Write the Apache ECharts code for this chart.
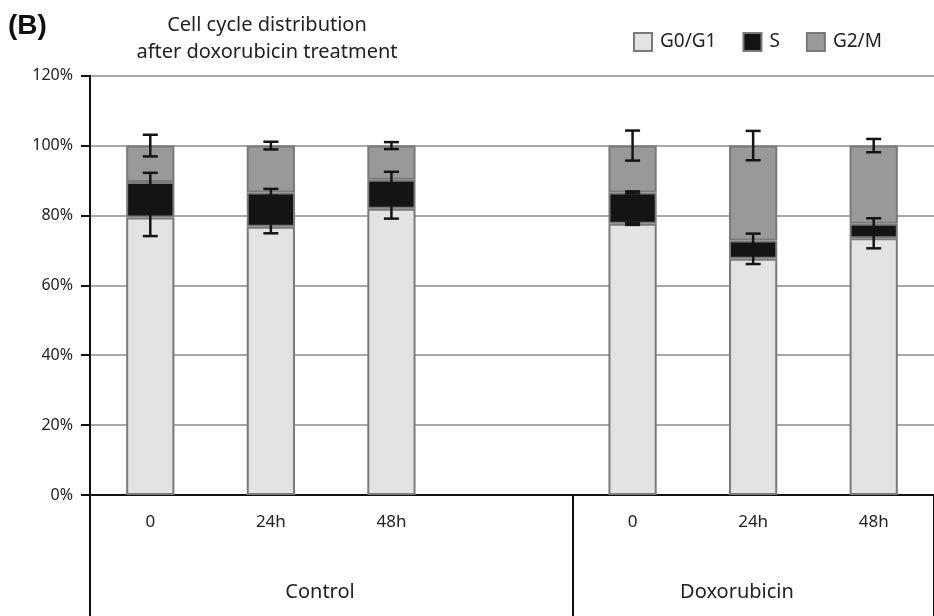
<!DOCTYPE html>
<html>
<head>
<meta charset="utf-8">
<script src="https://cdn.jsdelivr.net/npm/echarts@6/dist/echarts.min.js"></script>
<style>html,body{margin:0;padding:0;background:#fff}#c{width:934px;height:616px}</style>
</head>
<body>
<div id="c"></div>
<script>
// ---- data ----
var categories = ['0', '24h', '48h', '', '0', '24h', '48h'];
var groups = ['Control', 'Doxorubicin'];
var yTicks = [0, 20, 40, 60, 80, 100, 120];
var g0g1 = [79.4, 76.8, 81.9, null, 77.6, 67.6, 73.5];
var sPhase = [10.2, 9.8, 8.3, null, 9.0, 5.2, 4.1];
var g2m = [10.4, 13.4, 9.8, null, 13.4, 27.2, 22.4];
var g0g1Err = [5.3, 1.9, 2.8, null, 0.3, 1.5, 2.9];
var sErr = [2.6, 1.0, 2.3, null, 0.3, 2.0, 1.6];
var g2mErr = [3.1, 1.1, 1.0, null, 4.3, 4.2, 1.9];

var FONT = 'Noto Sans';
var chart = echarts.init(document.getElementById('c'));

function errData(vals, prevs, errs) {
  var out = [];
  for (var i = 0; i < vals.length; i++) {
    if (vals[i] == null) continue;
    var top = vals[i];
    prevs.forEach(function (p) { top += p[i]; });
    out.push([i, top, errs[i]]);
  }
  return out;
}
function errSeries(name, data) {
  return {
    type: 'custom', name: name, data: data, z: 5,
    encode: { x: 0, y: 1 },
    renderItem: function (params, api) {
      var x = api.value(0), top = api.value(1), e = api.value(2);
      var hi = api.coord([x, top + e]), lo = api.coord([x, top - e]);
      var w = 7.5;
      var st = { stroke: '#141414', lineWidth: 2.5 };
      return { type: 'group', children: [
        { type: 'line', shape: { x1: hi[0], y1: hi[1], x2: lo[0], y2: lo[1] }, style: st },
        { type: 'line', shape: { x1: hi[0] - w, y1: hi[1], x2: hi[0] + w, y2: hi[1] }, style: st },
        { type: 'line', shape: { x1: lo[0] - w, y1: lo[1], x2: lo[0] + w, y2: lo[1] }, style: st }
      ]};
    }
  };
}
function barSeries(name, vals, color) {
  return {
    type: 'bar', name: name, stack: 'total', barWidth: '40%', z: 2,
    data: vals.map(function (v) { return v == null ? '-' : v; }),
    itemStyle: { color: color, borderColor: '#7a7a7a', borderWidth: 2 }
  };
}

chart.setOption({
  animation: false,
  backgroundColor: '#fff',
  textStyle: { fontFamily: FONT },
  title: {
    text: 'Cell cycle distribution\nafter doxorubicin treatment',
    left: 262, top: 7, textAlign: 'center',
    textStyle: { fontFamily: FONT, fontSize: 20, fontWeight: 'normal', color: '#222', lineHeight: 27 }
  },
  legend: {
    data: ['G0/G1', 'S', 'G2/M'],
    left: 628, top: 27, itemWidth: 18, itemHeight: 18, itemGap: 26, icon: 'rect',
    textStyle: { fontFamily: FONT, fontSize: 19, color: '#222', padding: [0, 0, 0, 3] }
  },
  grid: { left: 90, top: 75.7, width: 852, bottom: 121, containLabel: false },
  xAxis: [{
    type: 'category', data: categories, position: 'bottom',
    axisLine: { lineStyle: { color: '#111', width: 2 } },
    axisTick: { interval: 0, length: 61, lineStyle: { color: '#111', width: 2 } },
    axisLabel: { interval: 0, margin: 19, fontFamily: FONT, fontSize: 17, color: '#222' },
    splitLine: { show: false }
  }, {
    type: 'category', data: categories, position: 'bottom', offset: 0,
    axisLine: { show: false },
    axisTick: { show: true, length: 121, interval: function (i) { return i === 0 || i === 4; },
      lineStyle: { color: '#111', width: 2 } },
    axisLabel: { show: false }
  }],
  yAxis: {
    type: 'value', min: yTicks[0], max: yTicks[yTicks.length - 1], interval: 20,
    axisLine: { show: true, lineStyle: { color: '#111', width: 2 } },
    axisTick: { show: true, length: 9, lineStyle: { color: '#111', width: 2 } },
    axisLabel: { margin: 17, formatter: '{value}%', fontFamily: FONT, fontSize: 16, color: '#222' },
    splitLine: { show: true, lineStyle: { color: '#a8a8a8', width: 2 } }
  },
  graphic: [
    { type: 'text', left: 8, top: 12, style: { text: '(B)', fontFamily: 'Liberation Sans', fontWeight: 'bold', fontSize: 28, fill: '#111' } },
    { type: 'text', x: 320, y: 592, style: { text: groups[0], fontFamily: FONT, fontSize: 20, fill: '#222', align: 'center', verticalAlign: 'middle' } },
    { type: 'text', x: 737, y: 592, style: { text: groups[1], fontFamily: FONT, fontSize: 20, fill: '#222', align: 'center', verticalAlign: 'middle' } }
  ],
  series: [
    barSeries('G0/G1', g0g1, '#e3e3e3'),
    errSeries('errG0', errData(g0g1, [], g0g1Err)),
    barSeries('S', sPhase, '#141414'),
    errSeries('errS', errData(sPhase, [g0g1], sErr)),
    barSeries('G2/M', g2m, '#999999'),
    errSeries('errG2', errData(g2m, [g0g1, sPhase], g2mErr))
  ]
});
</script>
</body>
</html>
